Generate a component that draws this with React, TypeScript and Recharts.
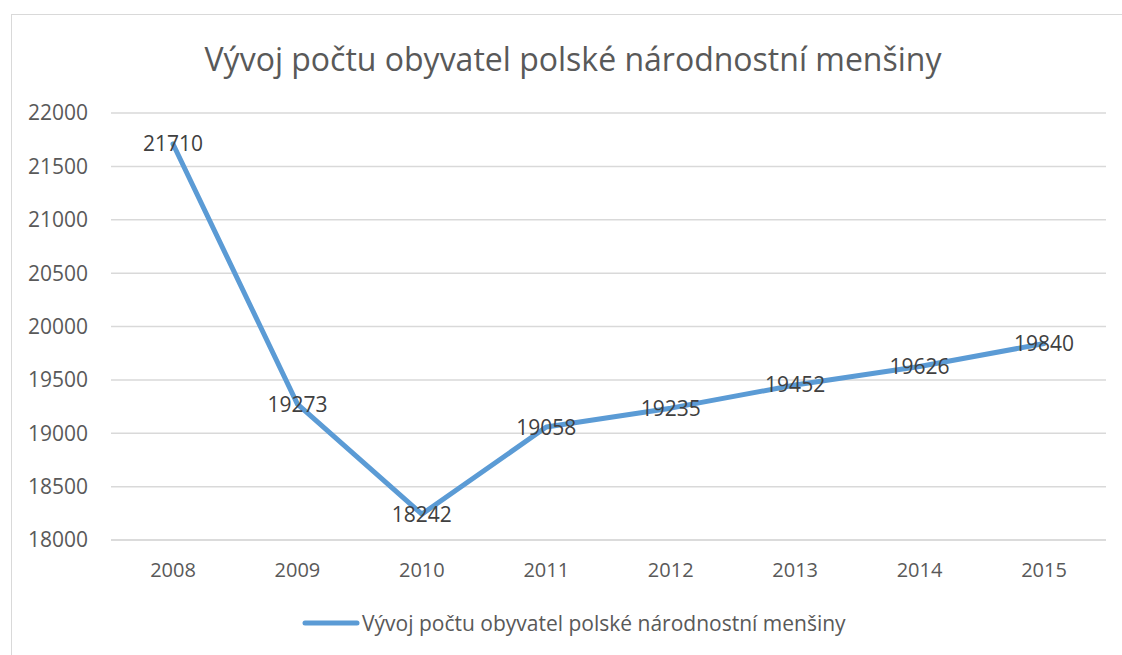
import { LineChart, Line, XAxis, YAxis, CartesianGrid, Legend, LabelList } from 'recharts';

const years = ['2008', '2009', '2010', '2011', '2012', '2013', '2014', '2015'];
const population = [21710, 19273, 18242, 19058, 19235, 19452, 19626, 19840];
const yTicks = [18000, 18500, 19000, 19500, 20000, 20500, 21000, 21500, 22000];

const seriesName = 'Vývoj počtu obyvatel polské národnostní menšiny';
const chartTitle = 'Vývoj počtu obyvatel polské národnostní menšiny';

const data = years.map((year, i) => ({ year, value: population[i] }));

const FONT = '"Open Sans", sans-serif';
const TEXT = '#595959';
const LABEL = '#404040';
const GRID = '#d9d9d9';
const BLUE = '#5b9bd5';

function LegendContent() {
  return (
    <div style={{ display: 'flex', alignItems: 'center', fontFamily: FONT, fontSize: 21, color: TEXT, whiteSpace: 'nowrap' }}>
      <svg width={58} height={12}>
        <line x1={3} y1={6} x2={55} y2={6} stroke={BLUE} strokeWidth={5} strokeLinecap="round" />
      </svg>
      <span style={{ marginLeft: 2 }}>{seriesName}</span>
    </div>
  );
}

export default function App() {
  return (
    <div style={{ position: 'absolute', left: 0, top: 0, width: 1122, height: 655, overflow: 'hidden', background: '#fff' }}>
      {/* chart frame */}
      <div style={{ position: 'absolute', left: 11, top: 14, width: 1130, height: 660, border: `1px solid ${GRID}`, boxSizing: 'border-box' }} />

      <div
        style={{
          position: 'absolute', left: 0, top: 36, width: 1146, textAlign: 'center',
          fontFamily: FONT, fontSize: 32, color: TEXT, lineHeight: '46px', whiteSpace: 'nowrap',
        }}
      >
        {chartTitle}
      </div>

      <div style={{ position: 'absolute', left: 12, top: 15 }}>
        <LineChart width={1110} height={645} data={data} margin={{ top: 98, right: 16, bottom: 80, left: 0 }}>
          <CartesianGrid vertical={false} stroke={GRID} strokeWidth={1.5} />
          <XAxis
            dataKey="year"
            padding={{ left: 62, right: 62 }}
            axisLine={{ stroke: GRID, strokeWidth: 1.5 }}
            tickLine={false}
            tickSize={0}
            tickMargin={23}
            height={40}
            tick={{ fill: TEXT, fontSize: 20, fontFamily: FONT }}
          />
          <YAxis
            domain={[18000, 22000]}
            ticks={yTicks}
            allowDataOverflow
            axisLine={false}
            tickLine={false}
            tickSize={0}
            tickMargin={23}
            width={99}
            tick={{ fill: TEXT, fontSize: 21, fontFamily: FONT }}
          />
          <Legend
            layout="horizontal"
            verticalAlign="middle"
            align="center"
            content={LegendContent}
            wrapperStyle={{ top: 594, left: 290, width: 800 }}
          />
          <Line
            type="linear"
            dataKey="value"
            name={seriesName}
            stroke={BLUE}
            strokeWidth={5}
            strokeLinecap="round"
            strokeLinejoin="round"
            dot={false}
            activeDot={false}
            isAnimationActive={false}
          >
            <LabelList dataKey="value" position="center" fill={LABEL} fontSize={21} fontFamily={FONT} />
          </Line>
        </LineChart>
      </div>
    </div>
  );
}
